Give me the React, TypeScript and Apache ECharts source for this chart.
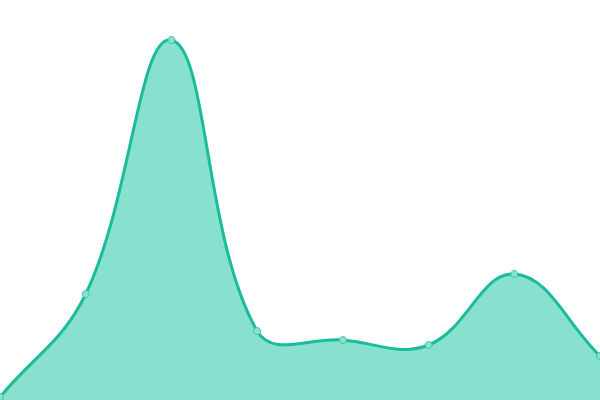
import React, { useEffect, useRef } from "react";
import * as echarts from "echarts";

const categories = ["A", "B", "C", "D", "E", "F", "G", "H"];
const values = [3, 106, 360, 69, 60, 55, 126, 44];

const TENSION = 0.4;

function buildPaths(pts: number[][], bottom: number) {
  const n = pts.length;
  const cps: { prev: number[]; next: number[] }[] = [];
  for (let i = 0; i < n; i++) {
    const cur = pts[i];
    const prev = pts[i - 1] || cur;
    const next = pts[i + 1] || cur;
    const d01 = Math.hypot(cur[0] - prev[0], cur[1] - prev[1]);
    const d12 = Math.hypot(next[0] - cur[0], next[1] - cur[1]);
    let s01 = d01 / (d01 + d12);
    let s12 = d12 / (d01 + d12);
    if (!isFinite(s01)) s01 = 0;
    if (!isFinite(s12)) s12 = 0;
    const fa = TENSION * s01;
    const fb = TENSION * s12;
    const cpPrev = [cur[0] - fa * (next[0] - prev[0]), cur[1] - fa * (next[1] - prev[1])];
    const cpNext = [cur[0] + fb * (next[0] - prev[0]), cur[1] + fb * (next[1] - prev[1])];
    cpPrev[1] = Math.min(Math.max(cpPrev[1], 0), bottom);
    cpNext[1] = Math.min(Math.max(cpNext[1], 0), bottom);
    cps.push({ prev: cpPrev, next: cpNext });
  }
  let d = `M${pts[0][0]},${pts[0][1]}`;
  for (let i = 1; i < n; i++) {
    const a = cps[i - 1].next;
    const b = cps[i].prev;
    d += ` C${a[0]},${a[1]} ${b[0]},${b[1]} ${pts[i][0]},${pts[i][1]}`;
  }
  const area = `${d} L${pts[n - 1][0]},${bottom} L${pts[0][0]},${bottom} Z`;
  return { line: d, area };
}

export default function App() {
  const ref = useRef<HTMLDivElement>(null);
  useEffect(() => {
    document.body.style.margin = "0";
    const chart = echarts.init(ref.current!, null, { renderer: "svg" });
    chart.setOption({
      animation: false,
      grid: { left: 0, right: 0, top: 0, bottom: 0 },
      xAxis: {
        type: "category",
        data: categories,
        boundaryGap: false,
        show: false,
      },
      yAxis: { type: "value", min: 0, max: 400, show: false },
      series: [
        {
          type: "custom",
          coordinateSystem: "cartesian2d",
          data: [[0, values[0]]],
          z: 1,
          silent: true,
          renderItem: (params: any, api: any) => {
            const pts = values.map((v, i) => api.coord([i, v]));
            const bottom = api.coord([0, 0])[1];
            const { line, area } = buildPaths(pts, bottom);
            return {
              type: "group",
              children: [
                {
                  type: "path",
                  shape: { pathData: area },
                  style: { fill: "#88e0ce", stroke: "none" },
                },
                {
                  type: "path",
                  shape: { pathData: line },
                  style: { fill: "none", stroke: "#1abc9c", lineWidth: 3 },
                },
              ],
            };
          },
        },
        {
          type: "line",
          data: values,
          z: 3,
          symbol: "circle",
          symbolSize: 7,
          showSymbol: true,
          lineStyle: { opacity: 0, width: 0 },
          itemStyle: { color: "#88e0ce", borderColor: "#3cc7a9", borderWidth: 1 },
        },
      ],
    });
    return () => chart.dispose();
  }, []);
  return <div ref={ref} style={{ width: 600, height: 400 }} />;
}
